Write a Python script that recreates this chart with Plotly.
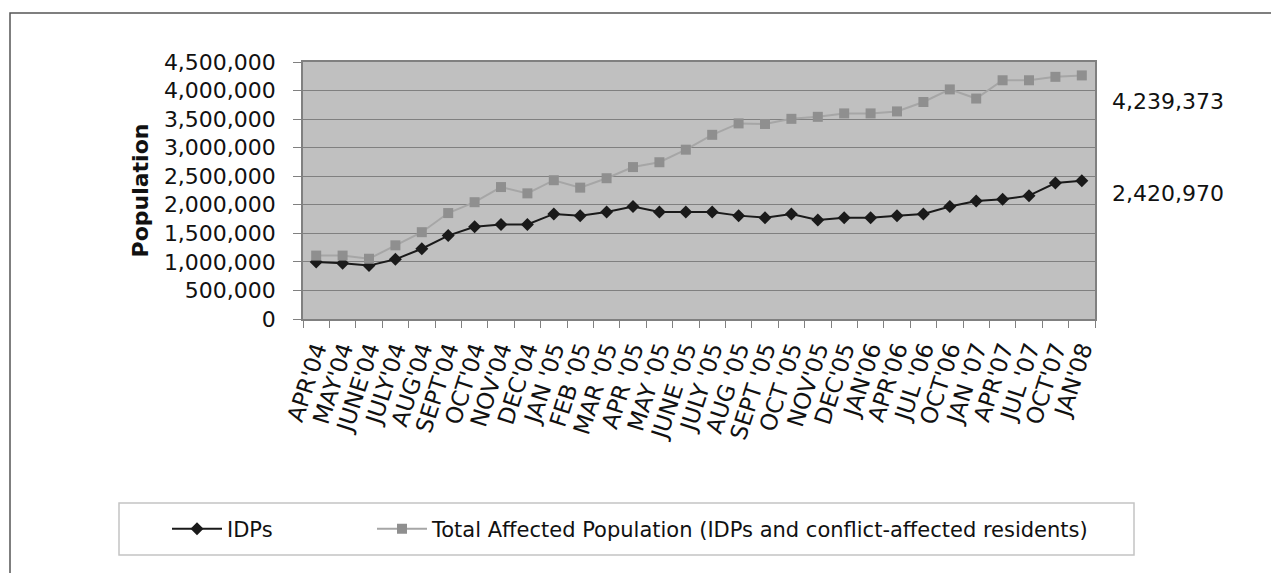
import plotly.graph_objects as go

months = ["APR'04", "MAY'04", "JUNE'04", "JULY'04", "AUG'04", "SEPT'04", "OCT'04",
          "NOV'04", "DEC'04", "JAN '05", "FEB '05", "MAR '05", "APR '05", "MAY '05",
          "JUNE '05", "JULY '05", "AUG '05", "SEPT '05", "OCT '05", "NOV'05", "DEC'05",
          "JAN'06", "APR'06", "JUL '06", "OCT'06", "JAN '07", "APR'07", "JUL '07",
          "OCT'07", "JAN'08"]

idps = [1000000, 975000, 935000, 1045000, 1230000, 1460000, 1615000, 1655000,
        1655000, 1840000, 1810000, 1875000, 1970000, 1875000, 1875000, 1875000,
        1810000, 1775000, 1840000, 1735000, 1775000, 1775000, 1810000, 1840000,
        1970000, 2065000, 2095000, 2160000, 2380000, 2420970]

total = [1110000, 1110000, 1055000, 1290000, 1520000, 1855000, 2045000, 2310000,
         2200000, 2430000, 2300000, 2465000, 2660000, 2745000, 2965000, 3225000,
         3425000, 3415000, 3505000, 3540000, 3600000, 3600000, 3635000, 3800000,
         4020000, 3860000, 4180000, 4180000, 4240000, 4265000]

end_labels = ["4,239,373", "2,420,970"]
y_ticks = [0, 500000, 1000000, 1500000, 2000000, 2500000, 3000000, 3500000, 4000000, 4500000]

FONT = "DejaVu Sans"

fig = go.Figure()
fig.add_trace(go.Scatter(
    x=months, y=idps, name="IDPs", mode="lines+markers",
    line=dict(color="#1a1a1a", width=2),
    marker=dict(symbol="diamond", size=10, color="#1a1a1a"),
    legend="legend", showlegend=True,
))
fig.add_trace(go.Scatter(
    x=months, y=total,
    name="Total Affected Population (IDPs and conflict-affected residents)",
    mode="lines+markers",
    line=dict(color="#a6a6a6", width=2),
    marker=dict(symbol="square", size=10, color="#8f8f8f"),
    legend="legend2", showlegend=True,
))

# page offset of the figure (default body margin)
OFF = 8
W, H = 1279 - OFF, 573 - OFF
# plot area in page pixels
PL, PR, PT, PB = 303, 1095, 62, 319
L, R, T, B = PL - OFF, W - (PR - OFF), PT - OFF, H - (PB - OFF)
pw, ph = PR - PL, PB - PT

def px(x):
    return (x - PL) / pw

def py(y):
    return (PB - y) / ph

ITEMW = 50

fig.update_layout(
    width=W, height=H,
    margin=dict(l=L, r=R, t=T, b=B, pad=0),
    paper_bgcolor="white",
    plot_bgcolor="#c0c0c0",
    showlegend=True,
    font=dict(family=FONT, size=21, color="#111111"),
    legend=dict(orientation="h", x=px(227 - ITEMW - 10), xanchor="left", y=py(529), yanchor="middle",
                itemwidth=ITEMW,
                bgcolor="rgba(0,0,0,0)", borderwidth=0, font=dict(size=21)),
    legend2=dict(orientation="h", x=px(432 - ITEMW - 10), xanchor="left", y=py(529), yanchor="middle",
                 itemwidth=ITEMW,
                 bgcolor="rgba(0,0,0,0)", borderwidth=0, font=dict(size=21)),
    xaxis=dict(
        type="category", range=[-0.5, len(months) - 0.5],
        tickmode="array", tickvals=months, ticktext=months,
        tickson="boundaries", ticks="outside", ticklen=7, tickcolor="#808080",
        ticklabelstandoff=6,
        tickangle=-72, tickfont=dict(size=23, family=FONT),
        showgrid=False, showline=True, linecolor="#808080", linewidth=1.5, mirror=True,
        automargin=False,
    ),
    yaxis=dict(
        range=[0, 4500000], tickvals=y_ticks, tickformat=",",
        ticks="outside", ticklen=8, tickcolor="#808080", ticklabelstandoff=13,
        tickfont=dict(size=22, family=FONT),
        showgrid=True, gridcolor="#808080", gridwidth=1,
        showline=True, linecolor="#808080", linewidth=1.5, mirror=True,
        zeroline=False, automargin=False,
        title=dict(text="<b>Population</b>", font=dict(size=22, family=FONT), standoff=9),
    ),
    shapes=[
        dict(type="rect", xref="paper", yref="paper",
             x0=px(119), x1=px(1134), y0=py(503), y1=py(555),
             line=dict(color="#c4c4c4", width=1.5), fillcolor="rgba(0,0,0,0)", layer="below"),
        dict(type="rect", xref="paper", yref="paper",
             x0=px(10), x1=px(1300), y0=py(13), y1=py(600),
             line=dict(color="#555555", width=1.5), fillcolor="rgba(0,0,0,0)", layer="below"),
    ],
    annotations=[
        dict(text=end_labels[0], xref="paper", yref="paper", x=px(1110), y=py(101),
             xanchor="left", yanchor="middle", showarrow=False, font=dict(size=22, family=FONT)),
        dict(text=end_labels[1], xref="paper", yref="paper", x=px(1110), y=py(193),
             xanchor="left", yanchor="middle", showarrow=False, font=dict(size=22, family=FONT)),
    ],
)

fig.write_html("out.html")
